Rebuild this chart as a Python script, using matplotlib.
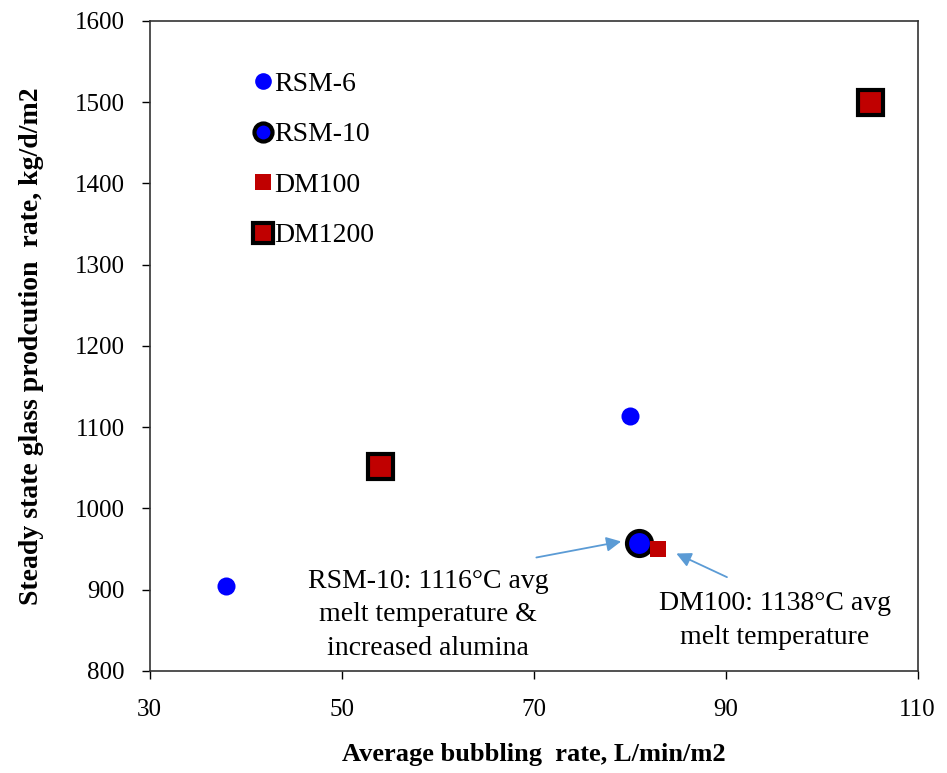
import numpy as np
import matplotlib
matplotlib.use("Agg")
import matplotlib.pyplot as plt

plt.rcParams['font.family'] = ['Liberation Serif', 'DejaVu Serif']

# bubbling rate (L/min/m2) vs glass production rate (kg/d/m2)
rsm6_x = [38, 80]
rsm6_y = [905, 1114]
rsm10_x = [81]
rsm10_y = [957]
dm100_x = [83]
dm100_y = [950]
dm1200_x = [54, 105]
dm1200_y = [1052, 1500]

xticks = [30, 50, 70, 90, 110]
yticks = [800, 900, 1000, 1100, 1200, 1300, 1400, 1500, 1600]

blue = '#0000FF'
red = '#C00000'

fig = plt.figure(figsize=(9.47, 7.73), dpi=100)
ax = fig.add_axes([0.158, 0.132, 0.811, 0.841])

ax.plot(rsm6_x, rsm6_y, 'o', color=blue, markersize=13, markeredgewidth=0, label='RSM-6', zorder=3)
ax.plot(rsm10_x, rsm10_y, 'o', color=blue, markersize=18, markeredgecolor='black',
        markeredgewidth=3, label='RSM-10', zorder=3)
ax.plot(dm100_x, dm100_y, 's', color=red, markersize=12, markeredgewidth=0, label='DM100', zorder=4)
ax.plot(dm1200_x, dm1200_y, 's', color=red, markersize=18, markeredgecolor='black',
        markeredgewidth=3, label='DM1200', zorder=3)

ax.set_xlim(30, 110)
ax.set_ylim(800, 1600)
ax.set_xticks(xticks)
ax.set_yticks(yticks)
ax.tick_params(direction='out', length=6, width=1, labelsize=18, colors='black')
ax.tick_params(axis='y', pad=12)
ax.tick_params(axis='x', pad=14)
for sp in ax.spines.values():
    sp.set_linewidth(1.2)
    sp.set_color('#333333')

ax.set_xlabel('Average bubbling  rate, L/min/m2', fontsize=19, fontweight='bold', labelpad=16)
ax.set_ylabel('Steady state glass prodcution  rate, kg/d/m2', fontsize=20, fontweight='bold', labelpad=22)

leg = ax.legend(loc='upper left', bbox_to_anchor=(0.137, 0.922), frameon=False, fontsize=20,
                handlelength=0.6, handletextpad=0.1, labelspacing=0.9, borderaxespad=0,
                borderpad=0)
# smaller symbols in the legend box
for h, s in zip(leg.legend_handles, [12, 13, 11, 14]):
    h.set_markersize(s)

# notes with arrows pointing at the two points
arrow_color = '#5B9BD5'
ax.annotate('', xy=(79.4, 960), xytext=(70, 939),
            arrowprops=dict(arrowstyle='-|>', color=arrow_color, lw=1.3, mutation_scale=22))
ax.annotate('', xy=(84.6, 946), xytext=(90.4, 914),
            arrowprops=dict(arrowstyle='-|>', color=arrow_color, lw=1.3, mutation_scale=22))

ax.text(59, 869, 'RSM-10: 1116°C avg\nmelt temperature &\nincreased alumina',
        ha='center', va='center', fontsize=20, linespacing=1.45)
ax.text(95.1, 862, 'DM100: 1138°C avg\nmelt temperature',
        ha='center', va='center', fontsize=20, linespacing=1.45)

fig.savefig('out.png', dpi=100)
